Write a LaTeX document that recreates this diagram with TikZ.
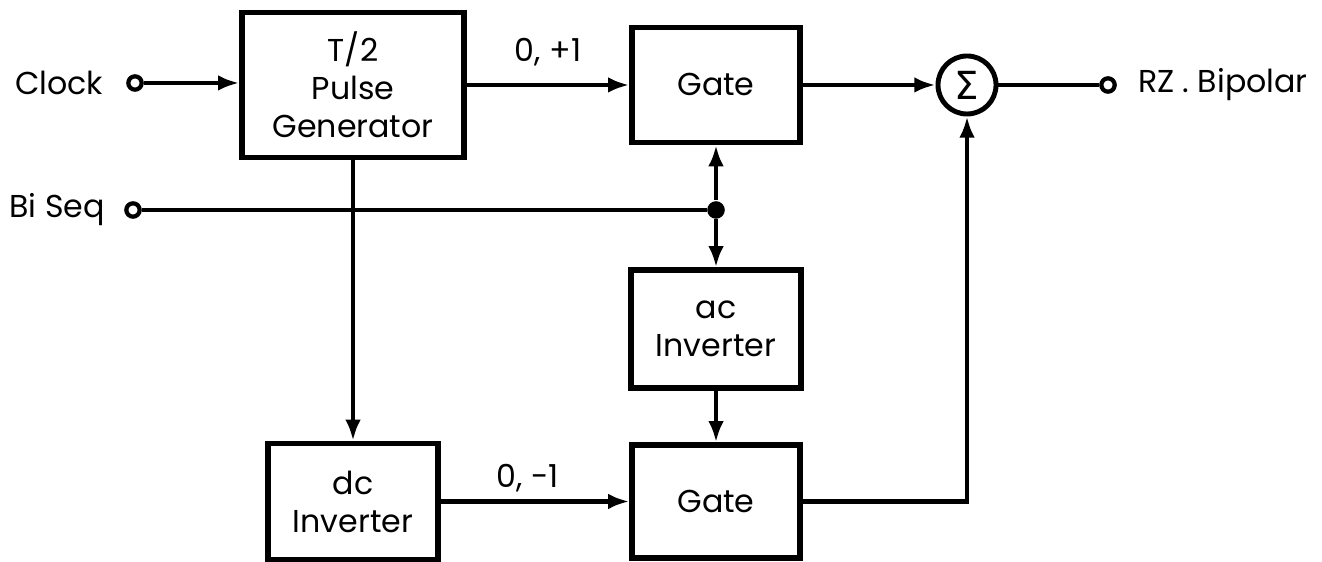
\documentclass[tikz,border=0pt]{standalone}
\usepackage{fontspec}
\setmainfont{Poppins}
\newfontfamily\symfont{DejaVu Sans}
\usetikzlibrary{arrows.meta, positioning}

\begin{document}
\begin{tikzpicture}[x=0.01cm, y=-0.01cm, font=\fontsize{9}{10.8}\selectfont,
    blk/.style={draw, line width=1.5pt, align=center, inner sep=0pt},
    wire/.style={line width=1.3pt},
    sig/.style={wire, -{Latex[length=6pt, width=4.4pt]}},
    term/.style={circle, draw, line width=1.2pt, fill=white, minimum size=3.8pt, inner sep=0pt},
    jdot/.style={circle, fill, minimum size=5pt, inner sep=0pt}]
  \useasboundingbox (0,0) rectangle (1322,562);

  % blocks
  \node[blk, minimum width=2.22cm, minimum height=1.45cm] (pulse) at (353,85) {T/2\\Pulse\\Generator};
  \node[blk, minimum width=1.68cm, minimum height=1.15cm] (gateA) at (716,85) {Gate};
  \node[blk, minimum width=1.70cm, minimum height=1.18cm] (acinv) at (716,329) {ac\\Inverter};
  \node[blk, minimum width=1.68cm, minimum height=1.13cm] (gateB) at (716,501.5) {Gate};
  \node[blk, minimum width=1.70cm, minimum height=1.16cm] (dcinv) at (353,501.5) {dc\\Inverter};
  \node[circle, draw, line width=1.4pt, minimum size=0.58cm, inner sep=0pt] (sum) at (967,85) {\symfont\fontsize{11}{11}\selectfont Σ};

  % terminals
  \node[term] (clk) at (135,83) {};
  \node[left=3pt of clk] (clklbl) {Clock};
  \node[term] (bs) at (133,210) {};
  \node[left=2pt of bs] (bslbl) {Bi Seq};
  \node[term] (out) at (1108,85) {};
  \node[right=2.5pt of out] (outlbl) {RZ . Bipolar};
  \node[jdot] (junc) at (bs -| gateA.south) {};

  % connections
  \draw[sig] (clk) -- (clk -| pulse.west);
  \draw[wire] (bs) -- (junc);
  \draw[sig] (pulse) -- node[above=1.3pt] {0, +1} (gateA);
  \draw[sig] (pulse) -- (dcinv);
  \draw[sig] (junc) -- (gateA);
  \draw[sig] (junc) -- (acinv);
  \draw[sig] (acinv) -- (gateB);
  \draw[sig] (dcinv) -- node[above=-1.3pt, xshift=-2pt] {0, -1} (gateB);
  \draw[sig] (gateA) -- (sum);
  \draw[sig] (gateB.east) -| (sum.south);
  \draw[wire] (sum) -- (out);
\end{tikzpicture}
\end{document}
